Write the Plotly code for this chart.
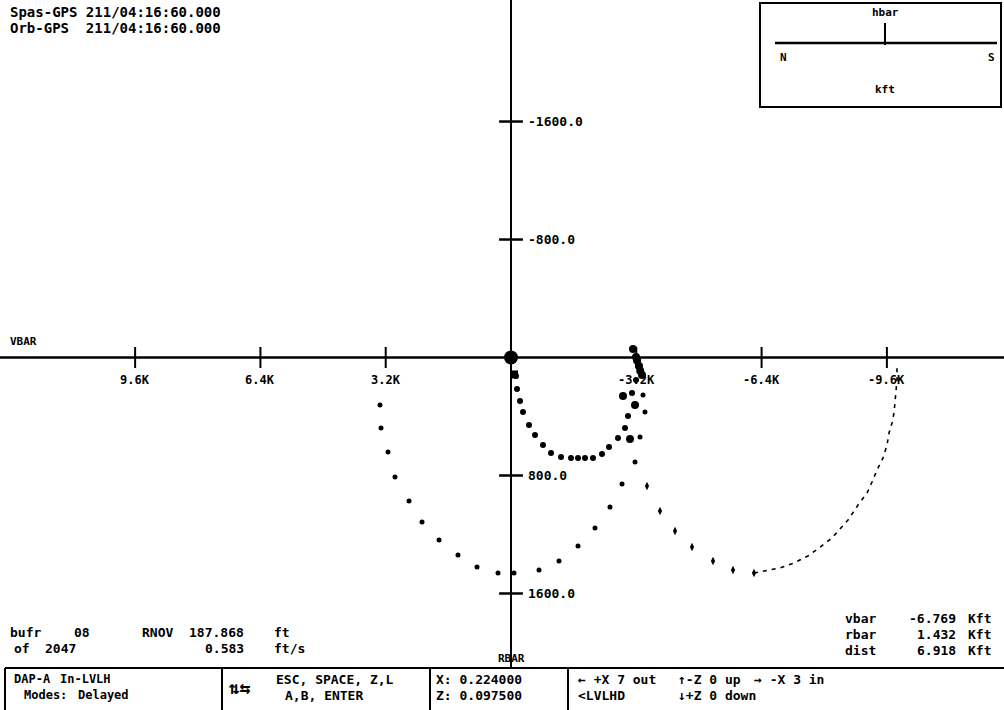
import plotly.graph_objects as go

W, H = 1004, 710
FONT = "DejaVu Sans Mono"

# ---- axis scales (feet): V-bar horizontal (positive to the left), R-bar vertical (positive down)
x_range = [13051, -12591]
y_range = [2390, -2424]

xticks = [9600, 6400, 3200, -3200, -6400, -9600]
xtick_labels = ["9.6K", "6.4K", "3.2K", "-3.2K", "-6.4K", "-9.6K"]
yticks = [-1600, -800, 800, 1600]
ytick_labels = ["-1600.0", "-800.0", "800.0", "1600.0"]

# ---- trajectories (ft)
arc1_x = [-128, -153, -230, -306, -460, -613, -817, -1022, -1277, -1532, -1711, -1890,
          -2094, -2324, -2503, -2733, -2912, -2988, -3090, -3193]
arc1_y = [125, 214, 295, 369, 458, 525, 593, 647, 674, 681, 681, 681,
          681, 654, 607, 546, 478, 397, 241, 153]

arc2_x = [3346, 3320, 3141, 2963, 2605, 2273, 1839, 1354, 868, 332, -77, -715,
          -1226, -1711, -2145, -2528, -2835, -3167, -3295, -3422, -3371]
arc2_y = [322, 478, 641, 810, 973, 1115, 1237, 1339, 1420, 1461, 1461, 1441,
          1380, 1278, 1156, 1014, 858, 709, 539, 370, 254]

arc3_x = [-3473, -3805, -4189, -4623, -5159, -5670, -6206]
arc3_y = [871, 1041, 1176, 1285, 1380, 1441, 1461]

dash_x = [-6206, -6870, -7228, -7585, -7968, -8198, -8377, -8607, -8862, -9092, -9220,
          -9348, -9501, -9603, -9654, -9731, -9782, -9807, -9833, -9858, -9858]
dash_y = [1461, 1427, 1393, 1346, 1271, 1224, 1170, 1102, 1000, 919, 844,
          763, 681, 593, 512, 444, 376, 309, 241, 153, 64]

cluster_x = [-3116, -3193, -3269, -3346, -2860, -3039, -3167, -3220, -3300]
cluster_y = [-58, -3, 58, 119, 261, 553, 322, 20, 90]

origin_x = [0]
origin_y = [0]
square_x = [-77]
square_y = [115]

fig = go.Figure()

dot = dict(color="black")
fig.add_trace(go.Scatter(x=dash_x, y=dash_y, mode="lines",
                         line=dict(color="black", width=1.6, dash="4px,5px"),
                         hoverinfo="skip", showlegend=False))
fig.add_trace(go.Scatter(x=arc1_x, y=arc1_y, mode="markers",
                         marker=dict(size=6, **dot), showlegend=False))
fig.add_trace(go.Scatter(x=arc2_x, y=arc2_y, mode="markers",
                         marker=dict(size=5, **dot), showlegend=False))
fig.add_trace(go.Scatter(x=arc3_x, y=arc3_y, mode="markers",
                         marker=dict(size=6, symbol="diamond-tall", **dot), showlegend=False))
fig.add_trace(go.Scatter(x=cluster_x, y=cluster_y, mode="markers",
                         marker=dict(size=8, **dot), showlegend=False))
fig.add_trace(go.Scatter(x=square_x, y=square_y, mode="markers",
                         marker=dict(size=8, symbol="square", **dot), showlegend=False))
fig.add_trace(go.Scatter(x=origin_x, y=origin_y, mode="markers",
                         marker=dict(size=14, **dot), showlegend=False))

# tick marks on the axes
fig.add_trace(go.Scatter(x=xticks, y=[0] * len(xticks), mode="markers",
                         marker=dict(symbol="line-ns", size=15,
                                     line=dict(color="black", width=2)),
                         showlegend=False, hoverinfo="skip"))
fig.add_trace(go.Scatter(x=[0] * len(yticks), y=yticks, mode="markers",
                         marker=dict(symbol="line-ew", size=17,
                                     line=dict(color="black", width=2.5)),
                         showlegend=False, hoverinfo="skip"))


def px(x):
    return x / W


def py(y):
    return 1 - y / H


ann = []
for v, lab in zip(xticks, xtick_labels):
    ann.append(dict(x=v, y=0, xref="x", yref="y", text=lab, showarrow=False,
                    yshift=-22, font=dict(family=FONT, size=12, color="black", weight="bold")))
for v, lab in zip(yticks, ytick_labels):
    ann.append(dict(x=0, y=v, xref="x", yref="y", text=lab, showarrow=False,
                    xanchor="left", xshift=15,
                    font=dict(family=FONT, size=13, color="black", weight="bold")))


def txt(x, y, s, size=13, anchor="left"):
    ann.append(dict(x=px(x), y=py(y), xref="paper", yref="paper", text=s,
                    showarrow=False, xanchor=anchor, yanchor="middle",
                    font=dict(family=FONT, size=size, color="black", weight="bold")))


txt(8, 12, "Spas-GPS 211/04:16:60.000", 14)
txt(8, 28, "Orb-GPS  211/04:16:60.000", 14)
txt(8, 341, "VBAR", 11)
txt(511, 658, "RBAR", 11, "center")

# hbar inset
txt(885, 13, "hbar", 11, "center")
txt(778, 57, "N", 11, "left")
txt(997, 57, "S", 11, "right")
txt(885, 89, "kft", 11, "center")

# bottom-left readouts
txt(8, 632, "bufr", 13)
txt(72, 632, "08", 13)
txt(140, 632, "RNOV", 13)
txt(246, 632, "187.868", 13, "right")
txt(272, 632, "ft", 13)
txt(12, 648, "of", 13)
txt(43, 648, "2047", 13)
txt(246, 648, "0.583", 13, "right")
txt(272, 648, "ft/s", 13)

# bottom-right readouts
for yy, lab, val in [(618, "vbar", "-6.769"), (634, "rbar", "1.432"), (650, "dist", "6.918")]:
    txt(843, yy, lab, 13)
    txt(958, yy, val, 13, "right")
    txt(966, yy, "Kft", 13)

# status box
txt(12, 679, "DAP-A", 12)
txt(58, 679, "In-LVLH", 12)
txt(22, 695, "Modes:", 12)
txt(76, 695, "Delayed", 12)
txt(226, 687, "⇅⇆", 18)
txt(274, 679, "ESC, SPACE, Z,L", 13)
txt(283, 695, "A,B, ENTER", 13)
txt(434, 679, "X: 0.224000", 13)
txt(434, 695, "Z: 0.097500", 13)
txt(576, 679, "← +X 7 out", 13)
txt(576, 695, "<LVLHD", 13)
txt(676, 679, "↑-Z 0 up", 13)
txt(676, 695, "↓+Z 0 down", 13)
txt(752, 679, "→ -X 3 in", 13)

shapes = [
    # V-bar axis
    dict(type="line", xref="paper", yref="y", x0=0, x1=1, y0=0, y1=0,
         line=dict(color="black", width=2.5)),
    # R-bar axis
    dict(type="line", xref="x", yref="paper", x0=0, x1=0, y0=py(668), y1=1,
         line=dict(color="black", width=2)),
    # hbar inset box
    dict(type="rect", xref="paper", yref="paper", x0=px(760), x1=px(1001), y0=py(107), y1=py(3),
         line=dict(color="black", width=2)),
    dict(type="line", xref="paper", yref="paper", x0=px(775), x1=px(997), y0=py(43), y1=py(43),
         line=dict(color="black", width=2.5)),
    dict(type="line", xref="paper", yref="paper", x0=px(885), x1=px(885), y0=py(45), y1=py(23),
         line=dict(color="black", width=2)),
    # status box lines
    dict(type="line", xref="paper", yref="paper", x0=px(5), x1=1, y0=py(668), y1=py(668),
         line=dict(color="black", width=2)),
]
for xv in [5, 222, 430, 568]:
    shapes.append(dict(type="line", xref="paper", yref="paper", x0=px(xv), x1=px(xv),
                       y0=0, y1=py(668), line=dict(color="black", width=2)))

fig.update_layout(
    width=W, height=H,
    margin=dict(l=0, r=0, t=0, b=0),
    paper_bgcolor="white", plot_bgcolor="white",
    xaxis=dict(range=x_range, visible=False, fixedrange=True),
    yaxis=dict(range=y_range, visible=False, fixedrange=True),
    annotations=ann, shapes=shapes, showlegend=False,
)

fig.write_html("out.html", config={"displayModeBar": False},
               post_script="document.body.style.margin='0px';document.body.style.overflow='hidden';")
